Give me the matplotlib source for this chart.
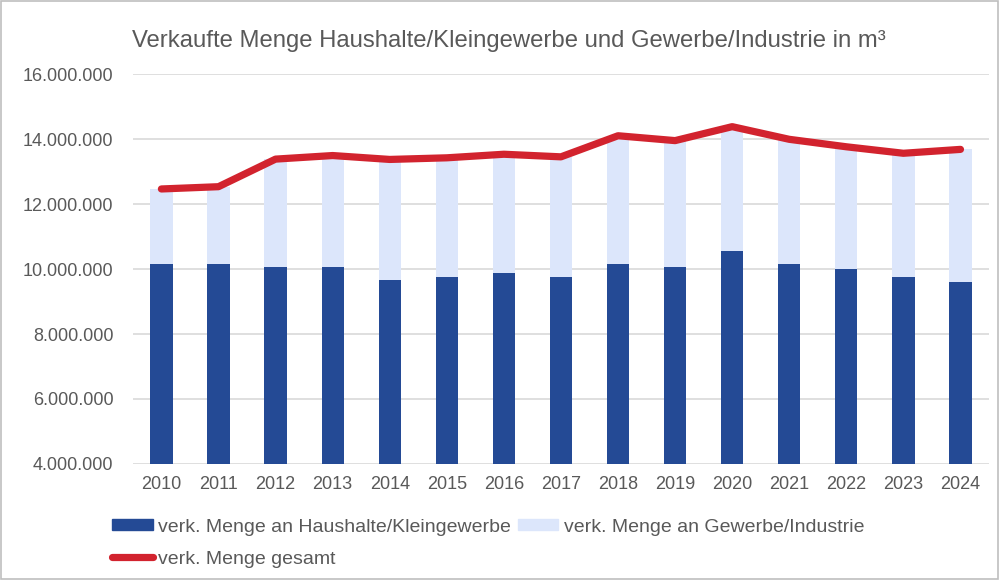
import matplotlib as mpl
mpl.use("Agg")
import matplotlib.pyplot as plt
from matplotlib.ticker import FuncFormatter
from matplotlib.patches import Patch, Rectangle
from matplotlib.lines import Line2D
import numpy as np

years = ["2010", "2011", "2012", "2013", "2014", "2015", "2016", "2017",
         "2018", "2019", "2020", "2021", "2022", "2023", "2024"]
haushalte = [10160000, 10160000, 10070000, 10070000, 9670000, 9760000, 9870000, 9760000,
             10160000, 10070000, 10550000, 10160000, 10000000, 9760000, 9610000]
gesamt = [12470000, 12540000, 13390000, 13500000, 13380000, 13430000, 13540000, 13460000,
          14110000, 13960000, 14390000, 14000000, 13770000, 13570000, 13690000]
gewerbe = [g - h for g, h in zip(gesamt, haushalte)]

DARK = "#244A95"
LIGHT = "#DCE6FB"
RED = "#D2232E"
TXT = "#595959"
GRID = "#D9D9D9"

plt.rcParams["font.family"] = ["Liberation Sans", "DejaVu Sans"]

fig = plt.figure(figsize=(9.99, 5.8), dpi=100)
ax = fig.add_axes([0.133, 0.2003, 0.857, 0.6714])

x = np.arange(len(years))
ax.bar(x, haushalte, width=0.39, color=DARK, zorder=2)
ax.bar(x, gewerbe, width=0.39, bottom=haushalte, color=LIGHT, zorder=2)
ax.plot(x, gesamt, color=RED, lw=5.2, solid_capstyle="round",
        solid_joinstyle="round", zorder=3)

ax.set_ylim(4000000, 16000000)
ax.set_yticks(range(4000000, 16000001, 2000000))
ax.yaxis.set_major_formatter(FuncFormatter(lambda v, p: f"{int(v):,}".replace(",", ".")))
ax.set_xlim(-0.5, len(years) - 0.5)
ax.set_xticks(x)
ax.set_xticklabels(years)
ax.grid(axis="y", color=GRID, lw=1.2, zorder=0)
for s in ax.spines.values():
    s.set_visible(False)
ax.tick_params(length=0, labelsize=13, colors=TXT)
ax.tick_params(axis="y", pad=14)
ax.tick_params(axis="x", pad=9)

fig.text(0.509, 0.93, "Verkaufte Menge Haushalte/Kleingewerbe und Gewerbe/Industrie in m³",
         ha="center", va="center", fontsize=17.2, color=TXT)

handles = [Patch(color=DARK), Line2D([], [], color=RED, lw=5.2, solid_capstyle="round"),
           Patch(color=LIGHT)]
labels = ["verk. Menge an Haushalte/Kleingewerbe", "verk. Menge gesamt",
          "verk. Menge an Gewerbe/Industrie"]
fig.legend(handles, labels, ncol=2, loc="upper left", bbox_to_anchor=(0.112, 0.106),
           frameon=False, fontsize=14, labelcolor=TXT, handlelength=2.1, handleheight=0.5,
           handletextpad=0.26, columnspacing=0.36, labelspacing=0.78, borderaxespad=0,
           borderpad=0)

fig.patches.append(Rectangle((0.001, 0.001), 0.998, 0.997, transform=fig.transFigure,
                             fill=False, edgecolor="#BFBFBF", lw=1.2))

fig.savefig("out.png", dpi=100)
